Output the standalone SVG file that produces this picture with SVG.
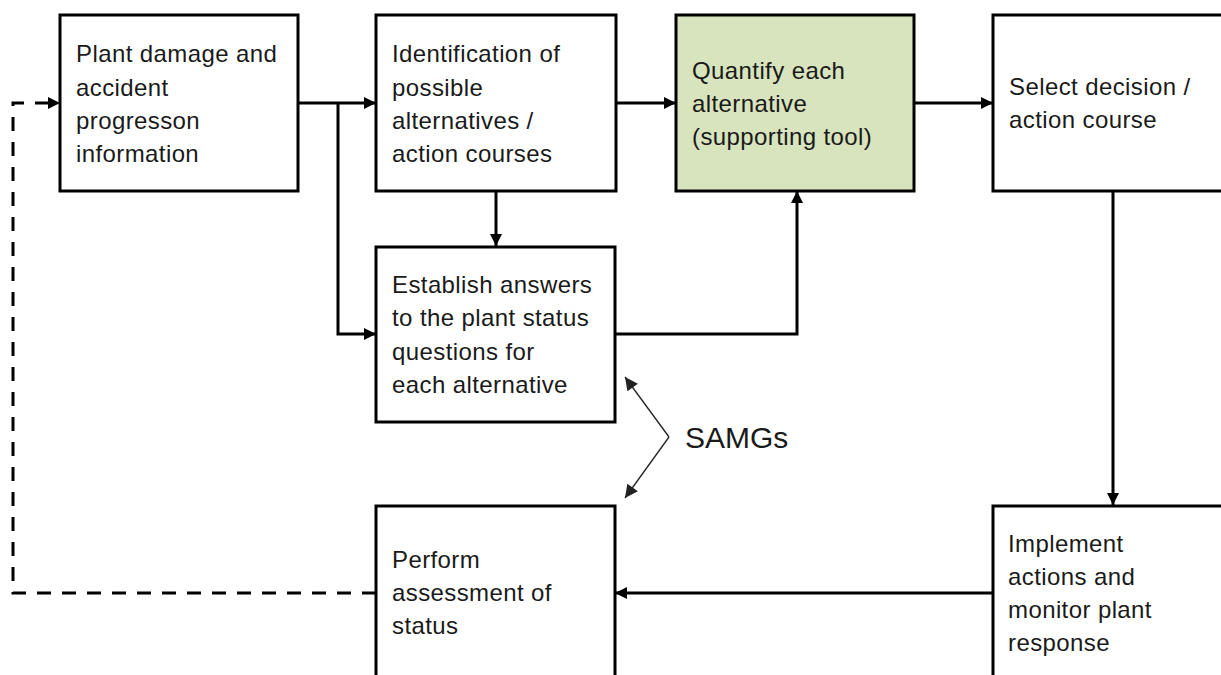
<svg xmlns="http://www.w3.org/2000/svg" width="1221" height="675" viewBox="0 0 1221 675">
  <style>
    .box { fill: #ffffff; stroke: #000000; stroke-width: 3; }
    .box.tool { fill: #d7e4bd; }
    .label { font-family: "Liberation Sans", Arial, sans-serif; font-size: 24px; letter-spacing: 0.4px; fill: #1a1a1a; }
    .flow { fill: none; stroke: #000000; stroke-width: 3; }
    .dashed { stroke-dasharray: 14 11; }
    .thin { fill: none; stroke: #222222; stroke-width: 1.3; }
    .note { font-family: "Liberation Sans", Arial, sans-serif; font-size: 30px; fill: #1a1a1a; }
  </style>
  <defs>
    <marker id="arrow" viewBox="0 0 10 10" refX="10" refY="5" markerWidth="4" markerHeight="4" markerUnits="strokeWidth" orient="auto">
      <path d="M0,0 L10,5 L0,10 z" fill="#000000"/>
    </marker>
    <marker id="arrowThin" viewBox="0 0 10 10" refX="10" refY="5" markerWidth="11" markerHeight="10" markerUnits="strokeWidth" orient="auto">
      <path d="M0,0 L10,5 L0,10 z" fill="#222222"/>
    </marker>
  </defs>

  <rect width="1221" height="675" fill="#ffffff"/>

  <!-- connectors -->
  <g id="connectors">
    <path class="flow" d="M298,103 L376,103" marker-end="url(#arrow)"/>
    <path class="flow" d="M338,103 L338,334 L376,334" marker-end="url(#arrow)"/>
    <path class="flow" d="M496,191 L496,246" marker-end="url(#arrow)"/>
    <path class="flow" d="M616,103 L676,103" marker-end="url(#arrow)"/>
    <path class="flow" d="M615,334 L797,334 L797,191" marker-end="url(#arrow)"/>
    <path class="flow" d="M914,103 L993,103" marker-end="url(#arrow)"/>
    <path class="flow" d="M1113,191 L1113,505" marker-end="url(#arrow)"/>
    <path class="flow" d="M993,593 L615,593" marker-end="url(#arrow)"/>
    <path class="flow dashed" d="M376,593 L13,593 L13,103 L60,103" marker-end="url(#arrow)"/>
    <!-- SAMGs bracket -->
    <path class="thin" d="M669,437 L625,377" marker-end="url(#arrowThin)"/>
    <path class="thin" d="M669,437 L625,498" marker-end="url(#arrowThin)"/>
  </g>

  <g id="node-plant-damage">
    <rect class="box" x="60" y="15" width="238" height="176"/>
    <text class="label" x="76" y="62">Plant damage and</text>
    <text class="label" x="76" y="95.5">accident</text>
    <text class="label" x="76" y="129">progresson</text>
    <text class="label" x="76" y="162">information</text>
  </g>

  <g id="node-identification">
    <rect class="box" x="376" y="15" width="240" height="176"/>
    <text class="label" x="392" y="62">Identification of</text>
    <text class="label" x="392" y="95.5">possible</text>
    <text class="label" x="392" y="129">alternatives /</text>
    <text class="label" x="392" y="162">action courses</text>
  </g>

  <g id="node-quantify">
    <rect class="box tool" x="676" y="15" width="238" height="176"/>
    <text class="label" x="692" y="79">Quantify each</text>
    <text class="label" x="692" y="112">alternative</text>
    <text class="label" x="692" y="145">(supporting tool)</text>
  </g>

  <g id="node-select">
    <rect class="box" x="993" y="15" width="240" height="176"/>
    <text class="label" x="1009" y="95">Select decision /</text>
    <text class="label" x="1009" y="128">action course</text>
  </g>

  <g id="node-establish">
    <rect class="box" x="376" y="247" width="239" height="175"/>
    <text class="label" x="392" y="293">Establish answers</text>
    <text class="label" x="392" y="326">to the plant status</text>
    <text class="label" x="392" y="359.5">questions for</text>
    <text class="label" x="392" y="393">each alternative</text>
  </g>

  <g id="node-perform">
    <rect class="box" x="376" y="506" width="239" height="190"/>
    <text class="label" x="392" y="568">Perform</text>
    <text class="label" x="392" y="601">assessment of</text>
    <text class="label" x="392" y="634">status</text>
  </g>

  <g id="node-implement">
    <rect class="box" x="993" y="506" width="240" height="190"/>
    <text class="label" x="1008" y="552">Implement</text>
    <text class="label" x="1008" y="585">actions and</text>
    <text class="label" x="1008" y="618">monitor plant</text>
    <text class="label" x="1008" y="651">response</text>
  </g>

  <g id="note-samgs">
    <text class="note" x="685" y="448">SAMGs</text>
  </g>
</svg>
